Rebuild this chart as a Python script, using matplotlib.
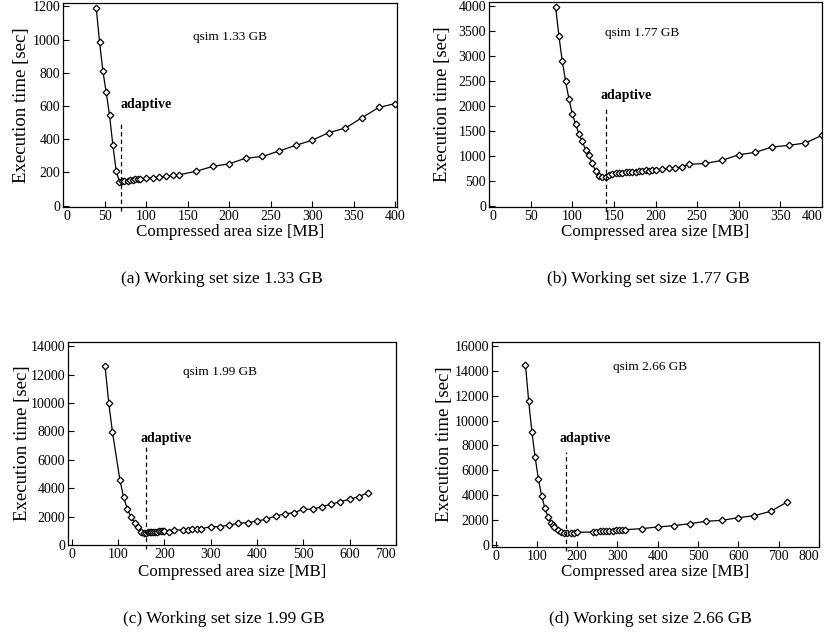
import matplotlib
matplotlib.use("Agg")
import matplotlib.pyplot as plt

plt.rcParams["font.family"] = ["Liberation Serif", "DejaVu Serif"]

# (a) qsim 1.33 GB
size_a = [40, 44, 48, 52, 56, 60, 64, 68, 71, 74, 78, 81, 84, 87, 90, 93,
          100, 108, 116, 124, 132, 140, 160, 180, 200, 220, 240, 260, 280,
          300, 320, 340, 360, 380, 400]
time_a = [1190, 985, 810, 682, 545, 365, 209, 144, 148, 150, 151, 153, 155,
          158, 160, 162, 165, 168, 172, 178, 183, 186, 207, 236, 252, 286, 296,
          329, 363, 394, 440, 467, 530, 591, 615]

# (b) qsim 1.77 GB
size_b = [80, 84, 88, 92, 96, 100, 104, 108, 112, 116, 120, 124, 128, 132,
          136, 140, 144, 148, 152, 156, 160, 164, 168, 172, 176, 180, 184, 188,
          192, 196, 200, 208, 216, 224, 232, 240, 260, 280, 300, 320, 340, 360,
          380, 400]
time_b = [3987, 3400, 2900, 2500, 2147, 1853, 1647, 1447, 1300, 1133, 1020,
          867, 700, 600, 587, 587, 633, 647, 660, 667, 673, 680, 687, 687, 693,
          700, 707, 720, 707, 720, 727, 740, 767, 773, 787, 840, 860, 920, 1033,
          1080, 1187, 1220, 1267, 1420]

# (c) qsim 1.99 GB
size_c = [72, 80, 88, 104, 112, 120, 128, 136, 144, 150, 156, 160, 164, 168,
          172, 176, 180, 184, 188, 192, 196, 200, 210, 220, 240, 250, 260, 270,
          280, 300, 320, 340, 360, 380, 400, 420, 440, 460, 480, 500, 520, 540,
          560, 580, 600, 620, 640]
time_c = [12590, 10000, 7950, 4590, 3365, 2540, 1950, 1576, 1294, 941, 870,
          880, 900, 900, 920, 930, 940, 950, 960, 970, 990, 1000, 941, 1059,
          1059, 1090, 1110, 1130, 1150, 1294, 1294, 1412, 1529, 1576, 1694,
          1812, 2047, 2188, 2282, 2518, 2518, 2706, 2870, 3059, 3224, 3412, 3694]

# (d) qsim 2.66 GB
size_d = [72, 80, 88, 96, 104, 112, 120, 128, 136, 140, 144, 152, 160, 168,
          176, 184, 192, 200, 240, 248, 256, 264, 272, 280, 288, 296, 304, 312,
          320, 360, 400, 440, 480, 520, 560, 600, 640, 680, 720]
time_d = [14500, 11560, 9060, 7043, 5296, 3952, 2957, 2231, 1747, 1550, 1420,
          1156, 995, 900, 900, 940, 960, 995, 1021, 1040, 1060, 1080, 1100,
          1120, 1140, 1160, 1180, 1200, 1210, 1290, 1425, 1532, 1694, 1882,
          1962, 2177, 2339, 2688, 3414]

adaptive_size = [70, 140, 160, 172]
adaptive_top = [500, 2000, 7000, 7500]
labels = ["qsim 1.33 GB", "qsim 1.77 GB", "qsim 1.99 GB", "qsim 2.66 GB"]
captions = ["(a) Working set size 1.33 GB", "(b) Working set size 1.77 GB",
            "(c) Working set size 1.99 GB", "(d) Working set size 2.66 GB"]


def draw_panel(ax, sizes, times, adaptive_x, adaptive_y, label, xlim, ylim,
               xticks, yticks, label_pos, adaptive_pos, ylabel_x, zero_left,
               last_right):
    ax.plot(sizes, times, color="black", linewidth=0.9, marker="D",
            markersize=3.4, markerfacecolor="white", markeredgecolor="black",
            markeredgewidth=0.9)
    ax.set_xlim(*xlim)
    ax.set_ylim(*ylim)
    ax.set_xticks(xticks)
    ax.set_yticks(yticks)
    ax.tick_params(direction="in", length=4, labelsize=10, pad=2)
    span = ylim[1] - ylim[0]
    ax.vlines(adaptive_x, ylim[0] - 0.02 * span, adaptive_y, colors="black",
              linestyles=(0, (3.5, 2.5)), linewidth=0.9, clip_on=False)
    ax.text(adaptive_pos[0], adaptive_pos[1], "adaptive", transform=ax.transAxes,
            fontsize=10, fontweight="bold", ha="left", va="center")
    ax.text(label_pos[0], label_pos[1], label, transform=ax.transAxes,
            fontsize=9.5, ha="left", va="center")
    ax.set_xlabel("Compressed area size [MB]", fontsize=12.2)
    ax.set_ylabel("Execution time [sec]", fontsize=13.5)
    ax.xaxis.label.set_va("center")
    ax.yaxis.label.set_va("center")
    ax.yaxis.set_label_coords(ylabel_x, 0.5)
    for spine in ax.spines.values():
        spine.set_linewidth(0.9)
    ticklabels = ax.get_xticklabels()
    if zero_left:
        ticklabels[0].set_ha("left")
    if last_right:
        ticklabels[-1].set_ha("right")


fig = plt.figure(figsize=(8.27, 6.34), dpi=100)
W, H = 827, 634


def axes_at(left, top, right, bottom):
    return fig.add_axes([left / W, 1 - bottom / H, (right - left) / W, (bottom - top) / H])


ax_a = axes_at(63, 3, 397, 207)
ax_b = axes_at(489, 2, 822, 207)
ax_c = axes_at(68, 342, 396, 545)
ax_d = axes_at(492, 342, 819, 547)

draw_panel(ax_a, size_a, time_a, adaptive_size[0], adaptive_top[0], labels[0],
           (0, 402), (-8, 1220), range(0, 401, 50), range(0, 1201, 200),
           (0.389, 0.835), (0.173, 0.503), -0.123, True, False)
draw_panel(ax_b, size_b, time_b, adaptive_size[1], adaptive_top[1], labels[1],
           (0, 400), (-10, 4080), range(0, 401, 50), range(0, 4001, 500),
           (0.348, 0.85), (0.336, 0.546), -0.141, True, True)
draw_panel(ax_c, size_c, time_c, adaptive_size[2], adaptive_top[2], labels[2],
           (-8, 700), (0, 14300), range(0, 701, 100), range(0, 14001, 2000),
           (0.351, 0.854), (0.22, 0.526), -0.140, False, True)
draw_panel(ax_d, size_d, time_d, adaptive_size[3], adaptive_top[3], labels[3],
           (-11, 800), (-190, 16340), range(0, 801, 100), range(0, 16001, 2000),
           (0.37, 0.88), (0.206, 0.53), -0.144, False, True)

ax_a.xaxis.set_label_coords(0.5, (207 - 232) / 204)
ax_b.xaxis.set_label_coords(0.5, (207 - 232) / 205)
ax_c.xaxis.set_label_coords(0.5, (545 - 572) / 203)
ax_d.xaxis.set_label_coords(0.5, (547 - 572) / 205)

caption_x = [222 / W, 648 / W, 224 / W, 650 / W]
caption_y = [1 - 283 / H, 1 - 283 / H, 1 - 623 / H, 1 - 623 / H]
for cx, cy, text in zip(caption_x, caption_y, captions):
    fig.text(cx, cy, text, fontsize=12.5, ha="center", va="baseline")

fig.savefig("out.png", dpi=100)
